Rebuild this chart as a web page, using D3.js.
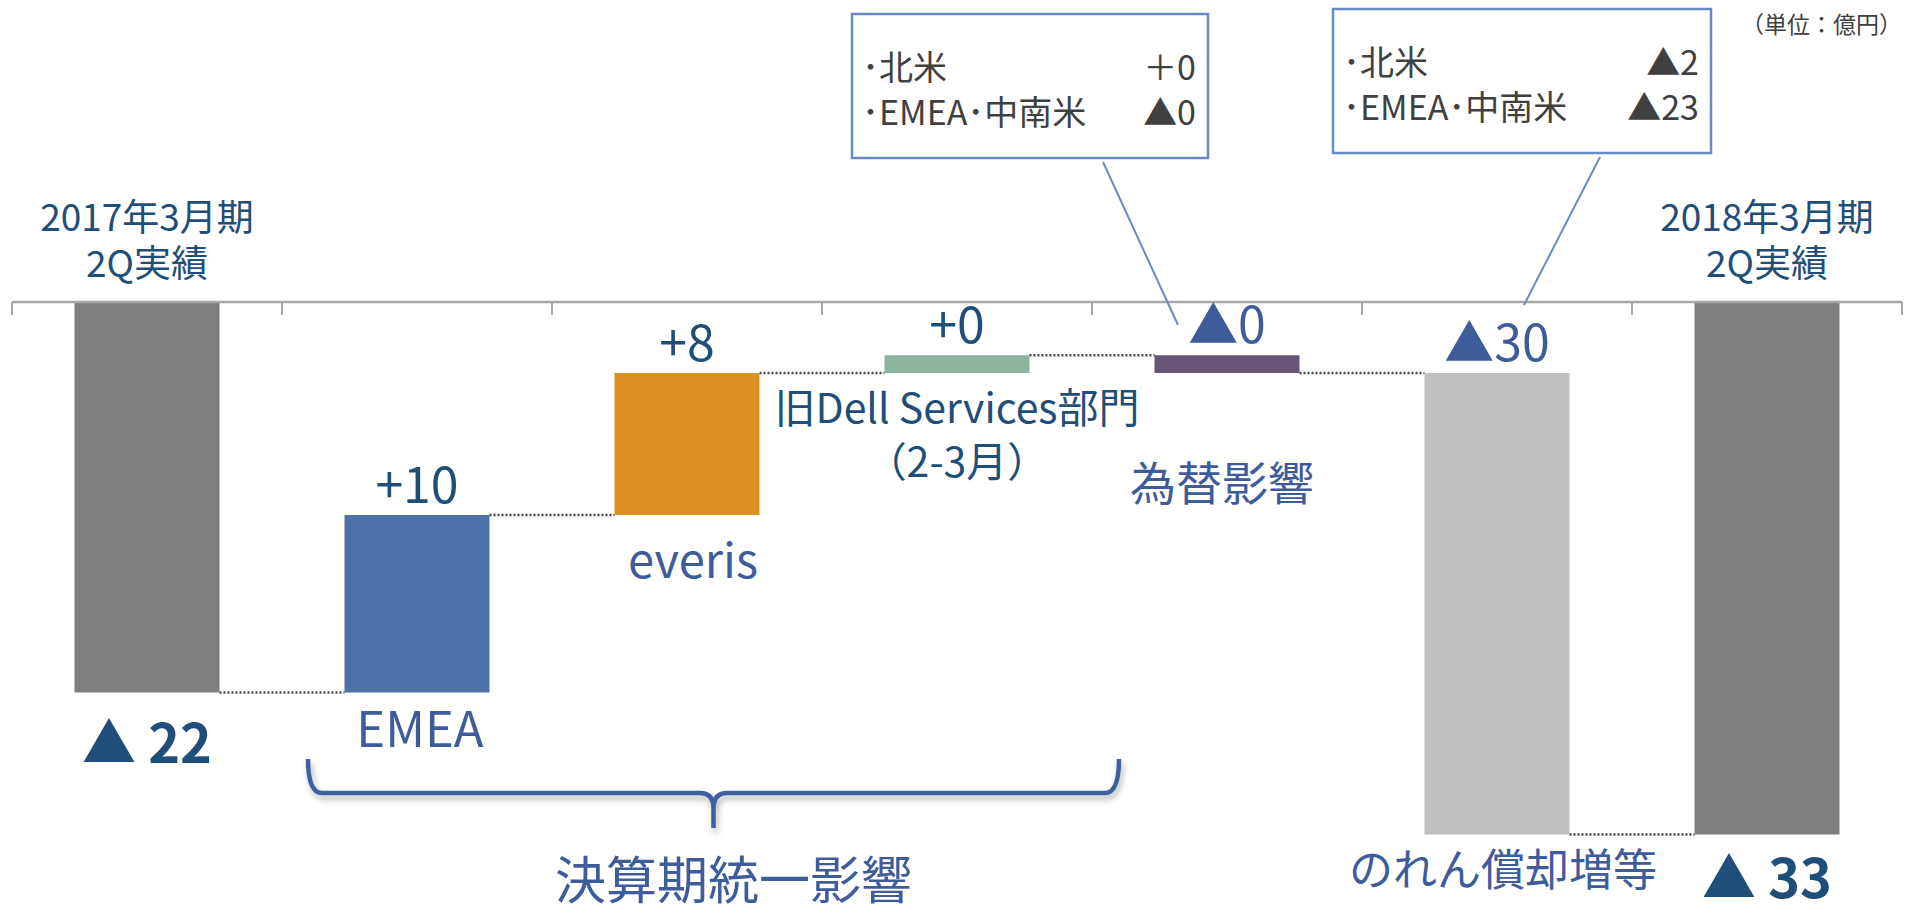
<!DOCTYPE html>
<meta charset="utf-8">
<style>
	body{ margin:0; background:#fff; }
	svg text{ font-family:"Noto Sans CJK JP","Noto Sans",sans-serif; }
	.dark{ fill:#1f4e79; }
	.mid{ fill:#3e5c9a; }
	.box text{ fill:#404040; font-size:34px; }
</style>
<body>
<svg width="1906" height="913" id="chart"></svg>
<script src="https://cdn.jsdelivr.net/npm/d3@7"></script>
<script>
	// categories (left to right)
	var categories = ["start", "EMEA", "everis", "Dell", "FX", "goodwill", "end"];
	// bar kind: totals hang from the axis, steps float
	var kinds = ["total", "step", "step", "step", "step", "step", "total"];
	// bar extents as drawn (億円, visual)
	var values = [-22, 10, 8, 1, -1, -26, -30];
	// printed numbers
	var valueLabels = ["▲ 22", "+10", "+8", "+0", "▲0", "▲30", "▲ 33"];
	var barColors = ["#7f7f7f", "#4e71a8", "#dd9021", "#8bb59f", "#675577", "#bfbfbf", "#7f7f7f"];

	var svg = d3.select("#chart");

	var x = d3.scaleBand().domain(categories).range([12, 1902]).padding(0);
	var y = d3.scaleLinear().domain([0, -30]).range([302, 834.5]);
	var barW = x.bandwidth() * 0.537;
	function cx(c){ return x(c) + x.bandwidth() / 2; }

	/* work out the waterfall levels */
	var bars = [], level = 0;
	categories.forEach(function(c, i){
		var from, to;
		if(kinds[i] == "total"){ from = 0; to = values[i]; }
		else { from = level; to = level + values[i]; }
		level = to;
		bars.push({cat:c, from:from, to:to, color:barColors[i], label:valueLabels[i], i:i});
	});

	// dotted connectors
	svg.selectAll("line.conn")
		.data(bars.slice(0, -1))
		.enter().append("line")
		.attr("class", "conn")
		.attr("x1", function(d){ return cx(d.cat) + barW/2; })
		.attr("x2", function(d){ return cx(categories[d.i+1]) - barW/2; })
		.attr("y1", function(d){ return y(d.to); })
		.attr("y2", function(d){ return y(d.to); })
		.attr("stroke", "#404040")
		.attr("stroke-width", 2.5)
		.attr("stroke-dasharray", "2,2");

	svg.selectAll("rect.bar")
		.data(bars)
		.enter().append("rect")
		.attr("class", "bar")
		.attr("x", function(d){ return cx(d.cat) - barW/2; })
		.attr("y", function(d){ return Math.min(y(d.from), y(d.to)); })
		.attr("width", barW)
		.attr("height", function(d){ return Math.abs(y(d.to) - y(d.from)); })
		.attr("fill", function(d){ return d.color; });

	// axis line with ticks at band edges
	svg.append("line")
		.attr("x1", x.range()[0]).attr("x2", x.range()[1])
		.attr("y1", y(0)).attr("y2", y(0))
		.attr("stroke", "#a6a6a6").attr("stroke-width", 2.5);
	var edges = categories.map(function(c){ return x(c); }).concat([x.range()[1]]);
	svg.selectAll("line.tick")
		.data(edges)
		.enter().append("line")
		.attr("x1", function(d){ return d; }).attr("x2", function(d){ return d; })
		.attr("y1", y(0)).attr("y2", y(0) + 13)
		.attr("stroke", "#a6a6a6").attr("stroke-width", 2);

	/* value labels above the step bars */
	bars.forEach(function(d){
		if(kinds[d.i] == "step"){
			var top = Math.min(y(d.from), y(d.to));
			svg.append("text")
				.attr("class", d.label.indexOf("▲") == 0 ? "mid" : "dark")
				.attr("x", cx(d.cat)).attr("y", top - 12)
				.attr("text-anchor", "middle")
				.style("font-size", "50px")
				.text(d.label);
		}
	});

	// totals: period names above, numbers below
	function total(c, lines, num, numY){
		lines.forEach(function(t, k){
			svg.append("text").attr("class", "dark")
				.attr("x", cx(c)).attr("y", 231 + k*46)
				.attr("text-anchor", "middle").style("font-size", "37px")
				.text(t);
		});
		svg.append("text").attr("class", "dark")
			.attr("x", cx(c)).attr("y", numY)
			.attr("text-anchor", "middle").style("font-size", "54px").style("font-weight", "bold")
			.text(num);
	}
	total("start", ["2017年3月期", "2Q実績"], valueLabels[0], 763);
	total("end", ["2018年3月期", "2Q実績"], valueLabels[6], 898);

	// category names
	function catLabel(c, lines, yy, cls, size, dx){
		lines.forEach(function(t, k){
			svg.append("text").attr("class", cls)
				.attr("x", cx(c) + (dx || 0)).attr("y", yy + k*54)
				.attr("text-anchor", "middle").style("font-size", size + "px")
				.text(t);
		});
	}
	catLabel("EMEA", ["EMEA"], 747, "mid", 49, 3);
	catLabel("everis", ["everis"], 578, "mid", 47, 6);
	catLabel("Dell", ["旧Dell Services部門", "（2-3月）"], 423, "dark", 41);
	catLabel("FX", ["為替影響"], 500, "mid", 46, -5);
	catLabel("goodwill", ["のれん償却増等"], 886, "mid", 44, 6);

	/* brace over the fiscal-period group */
	var bl = x("EMEA") + 26, br = x("Dell") + x.bandwidth() + 27, bm = (bl + br) / 2;
	var defs = svg.append("defs");
	var f = defs.append("filter").attr("id", "sh").attr("x", "-5%").attr("y", "-20%").attr("width", "110%").attr("height", "160%");
	f.append("feDropShadow").attr("dx", 2).attr("dy", 4).attr("stdDeviation", 3).attr("flood-color", "#000").attr("flood-opacity", 0.3);
	var p = d3.path();
	p.moveTo(bl, 759); p.quadraticCurveTo(bl, 793, bl + 14, 793);
	p.lineTo(bm - 14, 793); p.quadraticCurveTo(bm, 793, bm, 808); p.lineTo(bm, 828);
	p.moveTo(br, 759); p.quadraticCurveTo(br, 793, br - 14, 793);
	p.lineTo(bm + 14, 793); p.quadraticCurveTo(bm, 793, bm, 808);
	svg.append("path").attr("d", p.toString())
		.attr("fill", "none").attr("stroke", "#3f5f9e").attr("stroke-width", 4.5)
		.attr("filter", "url(#sh)");
	svg.append("text").attr("class", "mid")
		.attr("x", bm + 20).attr("y", 899)
		.attr("text-anchor", "middle").style("font-size", "51px")
		.text("決算期統一影響");

	// callout boxes
	var callouts = [
		{x:852, y:14, w:356, h:144, rows:[["･北米", "＋0"], ["･EMEA･中南米", "▲0"]], lx1:1103, ly1:162, lx2:1178, ly2:325},
		{x:1333, y:9, w:378, h:144, rows:[["･北米", "▲2"], ["･EMEA･中南米", "▲23"]], lx1:1600, ly1:157, lx2:1524, ly2:305}
	];
	callouts.forEach(function(b){
		svg.append("line")
			.attr("x1", b.lx1).attr("y1", b.ly1).attr("x2", b.lx2).attr("y2", b.ly2)
			.attr("stroke", "#6a8ac6").attr("stroke-width", 2);
		var g = svg.append("g").attr("class", "box");
		g.append("rect").attr("x", b.x).attr("y", b.y).attr("width", b.w).attr("height", b.h)
			.attr("fill", "#fff").attr("stroke", "#6a8ac6").attr("stroke-width", 2.5);
		b.rows.forEach(function(r, k){
			g.append("text").attr("x", b.x + 10).attr("y", b.y + 66 + k*45).text(r[0]);
			g.append("text").attr("x", b.x + b.w - 12).attr("y", b.y + 66 + k*45)
				.attr("text-anchor", "end").text(r[1]);
		});
	});

	svg.append("text")
		.attr("x", 1902).attr("y", 33)
		.attr("text-anchor", "end")
		.style("font-size", "23px").style("fill", "#404040")
		.text("（単位：億円）");
</script>
</body>
